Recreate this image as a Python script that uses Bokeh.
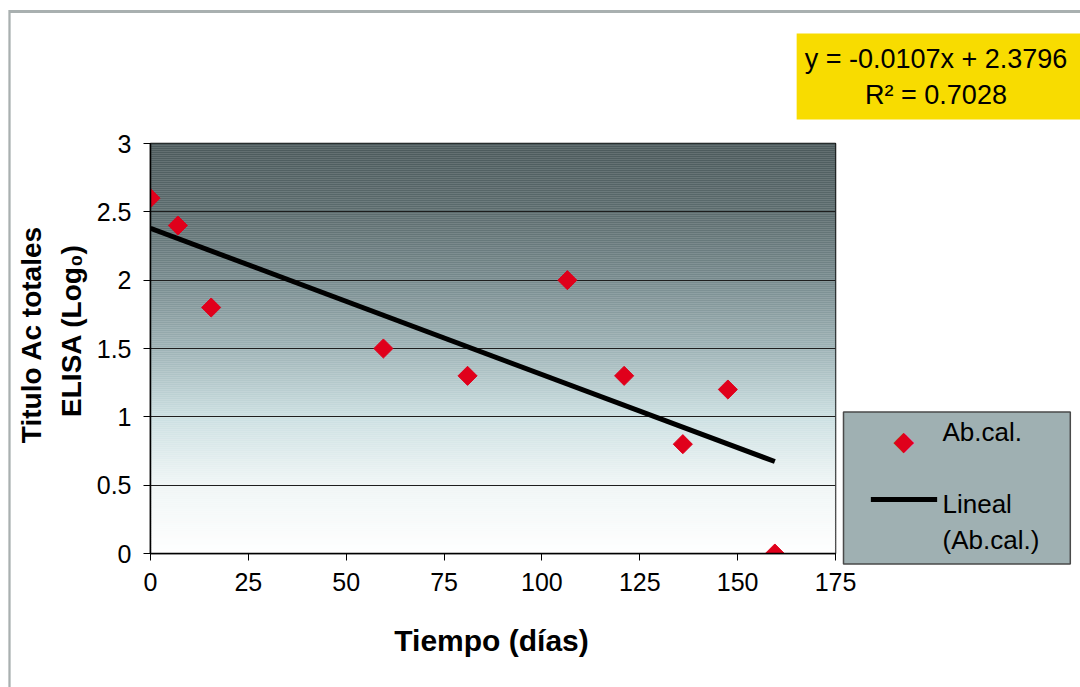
import numpy as np
from bokeh.plotting import figure
from bokeh.models import FixedTicker, Label, Range1d
from bokeh.embed import file_html
from bokeh.resources import INLINE

# Antibody titre (log) measured over time
days = [0, 7, 15.5, 59.5, 81, 106.5, 121, 136, 147.5, 159.5]
titers = [2.6, 2.4, 1.8, 1.5, 1.3, 2.0, 1.3, 0.8, 1.2, 0.0]

# Linear trend reported for the series
fit_slope = -0.0107
fit_intercept = 2.3796
fit_r2 = 0.7028

x_ticks = [0, 25, 50, 75, 100, 125, 150, 175]
y_ticks = [0, 0.5, 1, 1.5, 2, 2.5, 3]
y_tick_labels = ["0", "0.5", "1", "1.5", "2", "2.5", "3"]

series_name = "Ab.cal."
trend_name = "Lineal\n(Ab.cal.)"
x_title = "Tiempo (días)"
y_title_1 = "Titulo Ac totales"
y_title_2 = "ELISA (Log₀)"

# ---- layout (pixels) ----
W, H = 1080, 687
FL, FR, FT, FB = 150, 835, 143, 553
X0, X1 = 0, 175
Y0, Y1 = 0, 3
FONT = "Liberation Sans"
RED = "#e0001b"


def px_x(px):
    return X0 + (px - FL) * (X1 - X0) / (FR - FL)


def px_y(py):
    return Y0 + (FB - py) * (Y1 - Y0) / (FB - FT)


p = figure(width=W, height=H, x_range=Range1d(X0, X1), y_range=Range1d(Y0, Y1),
           output_backend="svg", toolbar_location=None,
           min_border_left=FL, min_border_right=W - FR,
           min_border_top=FT, min_border_bottom=H - FB)
p.background_fill_color = "white"
p.border_fill_color = "white"
p.outline_line_color = "#111111"
p.outline_line_width = 1.5

# vertical gradient behind the data (dark grey-teal at top to white at bottom)
grad_stops_y = [0.0, 0.5, 1.0, 1.5, 2.0, 2.5, 3.0]
grad_stops_rgb = [(255, 255, 255), (240, 246, 246), (204, 224, 226),
                  (158, 179, 182), (120, 139, 142), (92, 108, 110), (76, 90, 92)]
edges = np.linspace(Y0, Y1, 206)
mids = (edges[:-1] + edges[1:]) / 2
chan = [np.interp(mids, grad_stops_y, [c[i] for c in grad_stops_rgb]) for i in range(3)]
strip_colors = ["#%02x%02x%02x" % (int(r), int(g), int(b)) for r, g, b in zip(*chan)]
p.quad(left=X0, right=X1, bottom=edges[:-1], top=edges[1:] + 0.002,
       fill_color=strip_colors, line_color=None, level="image")

# axes
for ax in (p.xaxis, p.yaxis):
    ax.major_label_text_font = FONT
    ax.major_label_text_font_size = "25px"
    ax.major_label_text_color = "black"
    ax.axis_line_color = "black"
    ax.axis_line_width = 1.5
    ax.major_tick_line_color = "black"
    ax.major_tick_out = 7
    ax.major_tick_in = 0
    ax.minor_tick_line_color = None
p.xaxis.ticker = FixedTicker(ticks=x_ticks)
p.yaxis.ticker = FixedTicker(ticks=y_ticks)
p.yaxis.major_label_overrides = {t: s for t, s in zip(y_ticks, y_tick_labels)}
p.xaxis.major_label_standoff = 12
p.yaxis.major_label_standoff = 12

p.xgrid.grid_line_color = None
p.ygrid.ticker = FixedTicker(ticks=y_ticks)
p.ygrid.grid_line_color = "#1e1e1e"
p.ygrid.grid_line_width = 1

# trend line over the measured interval
fit_x = [min(days), max(days)]
fit_y = [fit_intercept + fit_slope * x for x in fit_x]
p.line(fit_x, fit_y, line_color="black", line_width=5)

# measurements
p.scatter(days, titers, marker="square", angle=np.pi / 4, size=13.5,
          fill_color=RED, line_color=RED)


def text(x, y, s, panel, size="26px", bold=False, angle=0.0, color="black",
         align="left", font=FONT, **kw):
    p.add_layout(Label(x=px_x(x), y=px_y(y), text=s, angle=angle,
                       text_align=align, text_baseline="middle",
                       text_font=font, text_font_size=size,
                       text_font_style="bold" if bold else "normal",
                       text_color=color, **kw), panel)


def bar(cx, cy, half_w, half_h, panel, fill=None, level="annotation"):
    # a solid rectangle drawn as the background box of a blank label
    p.add_layout(Label(x=px_x(cx), y=px_y(cy), text=" ", text_font_size="1px",
                       text_align="center", text_baseline="middle",
                       background_fill_color=fill, level=level,
                       padding=dict(left=half_w, right=half_w, top=half_h, bottom=half_h)),
                 panel)


# outer chart border (top and left edges)
bar(560, 11, 551, 1, "above", fill="#a9b0b0")
bar(9, 360, 1, 350, "left", fill="#a9b0b0")

# legend: panel with its labels (box anchored at its left edge),
# then the keys painted on the overlay level above it
text(843, 487.5, f"{series_name}\n\n{trend_name}", "right", size="26px",
     background_fill_color="#9fb0b2",
     border_line_color="#4a4a4a", border_line_width=1.5,
     padding=dict(left=99, right=31, top=5, bottom=9))
bar(903.5, 499, 33, 2, "below", fill="black", level="overlay")
text(903.5, 440, "◆", "above", size="27px", color=RED, align="center",
     font="DejaVu Sans", level="overlay")

# regression equation box
text(941.5, 76, f"y = {fit_slope}x + {fit_intercept}\nR² = {fit_r2}", "above",
     size="27px", align="center", background_fill_color="#f8dc00",
     padding=dict(left=8, right=20, top=10, bottom=10))

# axis titles
text(491, 640, x_title, "below", size="30px", bold=True, align="center")
text(31, 334, y_title_1, "left", size="28px", bold=True, angle=np.pi / 2, align="center")
text(71, 330, y_title_2, "left", size="28px", bold=True, angle=np.pi / 2, align="center")

open("out.html", "w").write(file_html(p, INLINE))
